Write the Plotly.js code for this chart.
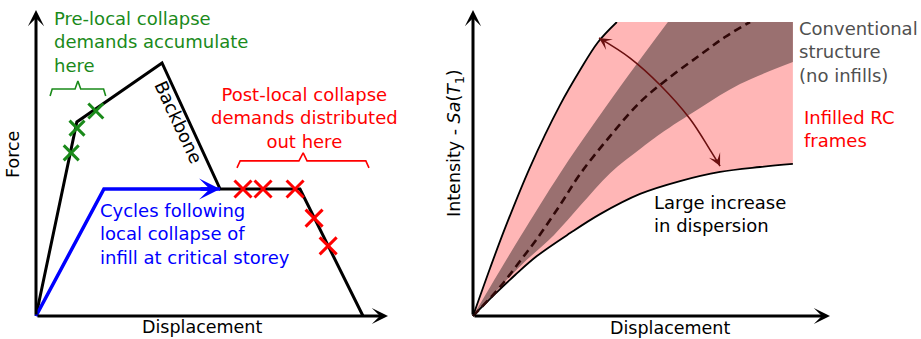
<!DOCTYPE html>
<html>
<head>
<meta charset="utf-8">
<script src="https://cdn.plot.ly/plotly-3.0.1.min.js"></script>
<style>html,body{margin:0;padding:0;background:#fff;}#chart{width:921px;height:339px;}</style>
</head>
<body>
<div id="chart"></div>
<script>
// ---------- Left panel: force-displacement (schematic units) ----------
const backboneDisp  = [0, 1.16, 3.58, 5.23, 7.5, 9.29];
const backboneForce = [0, 6.34, 8.27, 4.15, 4.15, 0];
const cycleDisp  = [0, 1.93, 5.23];
const cycleForce = [0, 4.15, 4.15];
const preDisp  = [1.0, 1.165, 1.70];
const preForce = [5.33, 6.14, 6.70];
const postDisp  = [5.88, 6.45, 7.36, 7.90, 8.30];
const postForce = [4.15, 4.15, 4.15, 3.20, 2.29];
const greenBraceX = [0.40, 0.46, 1.11, 1.19, 1.27, 1.92, 1.98];
const greenBraceY = [7.19, 7.42, 7.42, 7.68, 7.42, 7.42, 7.19];
const redBraceX = [5.71, 5.80, 7.47, 7.59, 7.70, 9.37, 9.46];
const redBraceY = [4.84, 5.07, 5.07, 5.33, 5.07, 5.07, 4.84];

// ---------- Right panel: IDA curves (schematic units) ----------
const upperX = [0, 0.48, 0.90, 1.60, 2.44, 3.00, 3.50, 4.03];
const upperY = [0, 1.57, 2.88, 4.87, 6.90, 8.04, 8.95, 9.61];
const lowerX = [0, 0.62, 1.18, 1.79, 2.72, 3.56, 4.68, 5.80, 6.92, 8.04, 8.96];
const lowerY = [0, 0.72, 1.34, 1.96, 2.71, 3.33, 3.99, 4.41, 4.71, 4.87, 4.97];
const darkUpperX = [0, 0.48, 1.32, 2.44, 3.42, 4.40, 5.46];
const darkUpperY = [0, 0.95, 2.58, 4.67, 6.34, 7.94, 9.61];
const darkLowerX = [0, 0.62, 1.32, 2.27, 3.00, 3.84, 4.68, 5.24, 6.36, 7.48, 8.96];
const darkLowerY = [0, 0.78, 1.63, 2.65, 3.60, 4.67, 5.46, 5.95, 6.80, 7.58, 8.30];
const medianX = [0, 0.76, 1.32, 1.79, 2.44, 3.00, 3.84, 4.68, 5.52, 6.36, 7.06, 7.76];
const medianY = [0, 0.95, 1.80, 2.52, 3.63, 4.64, 5.88, 6.99, 7.81, 8.53, 9.12, 9.61];
const arcX = [3.53, 4.40, 5.24, 6.08, 6.64, 6.92];
const arcY = [9.09, 8.43, 7.55, 6.44, 5.43, 4.90];
const capY = 9.61;
const bandEndX = 8.96;
const capLineX = [0, bandEndX];
const capLineY = [capY, capY];

const W = 921, H = 339;
const FONT = 'DejaVu Sans, Verdana, sans-serif';
const px = p => p / W;
const py = p => (H - p) / H;

const GREEN = '#1a8a1a', RED = '#ff0000', BLUE = '#0000ff';
const PINK = '#ffb6b6', DARK = '#9a7070', MAROON = '#6b1010', DASH = '#300808';

const R = {xaxis: 'x2', yaxis: 'y2', mode: 'lines', hoverinfo: 'skip'};
const inv = {width: 0, shape: 'spline'};

const traces = [
  // left panel
  {x: backboneDisp, y: backboneForce, xaxis: 'x', yaxis: 'y', mode: 'lines',
   line: {color: '#000', width: 3}},
  {x: cycleDisp, y: cycleForce, xaxis: 'x', yaxis: 'y', mode: 'lines',
   line: {color: BLUE, width: 3.5}},
  {x: greenBraceX, y: greenBraceY, xaxis: 'x', yaxis: 'y', mode: 'lines',
   line: {color: GREEN, width: 1.6}},
  {x: redBraceX, y: redBraceY, xaxis: 'x', yaxis: 'y', mode: 'lines',
   line: {color: RED, width: 1.6}},
  {x: preDisp, y: preForce, xaxis: 'x', yaxis: 'y', mode: 'markers', cliponaxis: false,
   marker: {symbol: 'x-thin', size: 15, line: {color: GREEN, width: 3}}},
  {x: postDisp, y: postForce, xaxis: 'x', yaxis: 'y', mode: 'markers', cliponaxis: false,
   marker: {symbol: 'x-thin', size: 17, line: {color: RED, width: 3}}},
  // right panel fills (layered)
  Object.assign({}, R, {x: capLineX, y: capLineY, line: {width: 0}}),
  Object.assign({}, R, {x: lowerX, y: lowerY, line: inv, fill: 'tonexty', fillcolor: PINK}),
  Object.assign({}, R, {x: capLineX, y: capLineY, line: {width: 0}}),
  Object.assign({}, R, {x: darkLowerX, y: darkLowerY, line: inv, fill: 'tonexty', fillcolor: DARK}),
  Object.assign({}, R, {x: darkUpperX, y: darkUpperY, line: inv, fill: 'tozerox', fillcolor: PINK}),
  Object.assign({}, R, {x: upperX, y: upperY, line: inv, fill: 'tozerox', fillcolor: '#ffffff'}),
  // right panel lines
  Object.assign({}, R, {x: lowerX, y: lowerY, line: {color: '#000', width: 1.8, shape: 'spline'}}),
  Object.assign({}, R, {x: upperX, y: upperY, line: {color: '#000', width: 1.8, shape: 'spline'}}),
  Object.assign({}, R, {x: medianX, y: medianY, line: {color: DASH, width: 2.6, shape: 'spline', dash: '8px,5px'}}),
  Object.assign({}, R, {x: arcX, y: arcY, line: {color: MAROON, width: 1.6, shape: 'spline'}})
];

const ax = {showgrid: false, zeroline: false, showticklabels: false, showline: false, ticks: '', fixedrange: true};

const arrow = (o) => Object.assign({showarrow: true, arrowhead: 3, arrowsize: 0.9, arrowwidth: 3,
  arrowcolor: '#000', text: '', standoff: 0}, o);
const txt = (o) => Object.assign({xref: 'paper', yref: 'paper', showarrow: false, yanchor: 'middle'}, o);

const annotations = [
  // axis arrows
  arrow({xref: 'x', x: 0, yref: 'paper', y: py(10), axref: 'pixel', ayref: 'pixel', ax: 0, ay: 306}),
  arrow({xref: 'paper', x: px(388), yref: 'y', y: 0, axref: 'pixel', ayref: 'pixel', ax: -352, ay: 0}),
  arrow({xref: 'x2', x: 0, yref: 'paper', y: py(10), axref: 'pixel', ayref: 'pixel', ax: 0, ay: 306}),
  arrow({xref: 'paper', x: px(830), yref: 'y2', y: 0, axref: 'pixel', ayref: 'pixel', ax: -357, ay: 0}),
  // blue arrowhead
  arrow({xref: 'x', yref: 'y', x: cycleDisp[2], y: cycleForce[2], axref: 'x', ayref: 'y',
   ax: cycleDisp[2] - 0.6, ay: cycleForce[2], arrowsize: 1.0, arrowwidth: 3.5, arrowcolor: BLUE}),
  // arc arrowheads
  arrow({xref: 'x2', yref: 'y2', x: arcX[0], y: arcY[0], axref: 'x2', ayref: 'y2',
   ax: 3.73, ay: 8.94, arrowsize: 1.3, arrowwidth: 1.6, arrowcolor: MAROON}),
  arrow({xref: 'x2', yref: 'y2', x: arcX[5], y: arcY[5], axref: 'x2', ayref: 'y2',
   ax: 6.81, ay: 5.16, arrowsize: 1.3, arrowwidth: 1.6, arrowcolor: MAROON}),
  // texts left
  txt({x: px(52), y: py(42), xanchor: 'left', align: 'left',
   text: 'Pre-local collapse<br>demands accumulate<br>here', font: {family: FONT, size: 18, color: GREEN}}),
  txt({x: px(304), y: py(118), xanchor: 'center', align: 'center',
   text: 'Post-local collapse<br>demands distributed<br>out here', font: {family: FONT, size: 18, color: RED}}),
  txt({x: px(98), y: py(234), xanchor: 'left', align: 'left',
   text: 'Cycles following<br>local collapse of<br>infill at critical storey', font: {family: FONT, size: 18, color: BLUE}}),
  txt({x: px(178), y: py(122), xanchor: 'center', textangle: 65,
   text: 'Backbone', font: {family: FONT, size: 18, color: '#000'}}),
  txt({x: px(13), y: py(155), xanchor: 'center', textangle: -90,
   text: 'Force', font: {family: FONT, size: 17.5, color: '#000'}}),
  txt({x: px(202), y: py(327), xanchor: 'center',
   text: 'Displacement', font: {family: FONT, size: 17.5, color: '#000'}}),
  // texts right
  txt({x: px(670), y: py(328), xanchor: 'center',
   text: 'Displacement', font: {family: FONT, size: 17.5, color: '#000'}}),
  txt({x: px(456), y: py(143), xanchor: 'center', textangle: -90,
   text: 'Intensity - <i>Sa</i>(<i>T</i><sub>1</sub>)', font: {family: FONT, size: 17.5, color: '#000'}}),
  txt({x: px(797), y: py(52), xanchor: 'left', align: 'left',
   text: 'Conventional<br>structure<br>(no infills)', font: {family: FONT, size: 18, color: '#505050'}}),
  txt({x: px(802), y: py(129), xanchor: 'left', align: 'left',
   text: 'Infilled RC<br>frames', font: {family: FONT, size: 18, color: RED}}),
  txt({x: px(652), y: py(214), xanchor: 'left', align: 'left',
   text: 'Large increase<br>in dispersion', font: {family: FONT, size: 18, color: '#000'}})
];

const layout = {
  width: W, height: H,
  margin: {l: 0, r: 0, t: 0, b: 0},
  paper_bgcolor: '#fff', plot_bgcolor: 'rgba(0,0,0,0)',
  showlegend: false,
  xaxis: Object.assign({}, ax, {domain: [px(26), px(388)], range: [-10 / 35.2, 10]}),
  yaxis: Object.assign({}, ax, {domain: [py(326), py(10)], range: [-10 / 30.6, 10]}),
  xaxis2: Object.assign({}, ax, {domain: [px(463), px(830)], range: [-10 / 35.7, 10], anchor: 'y2'}),
  yaxis2: Object.assign({}, ax, {domain: [py(326), py(22)], range: [-10 / 30.6, capY], anchor: 'x2'}),
  annotations: annotations
};

Plotly.newPlot('chart', traces, layout, {displayModeBar: false, staticPlot: true});
</script>
</body>
</html>
